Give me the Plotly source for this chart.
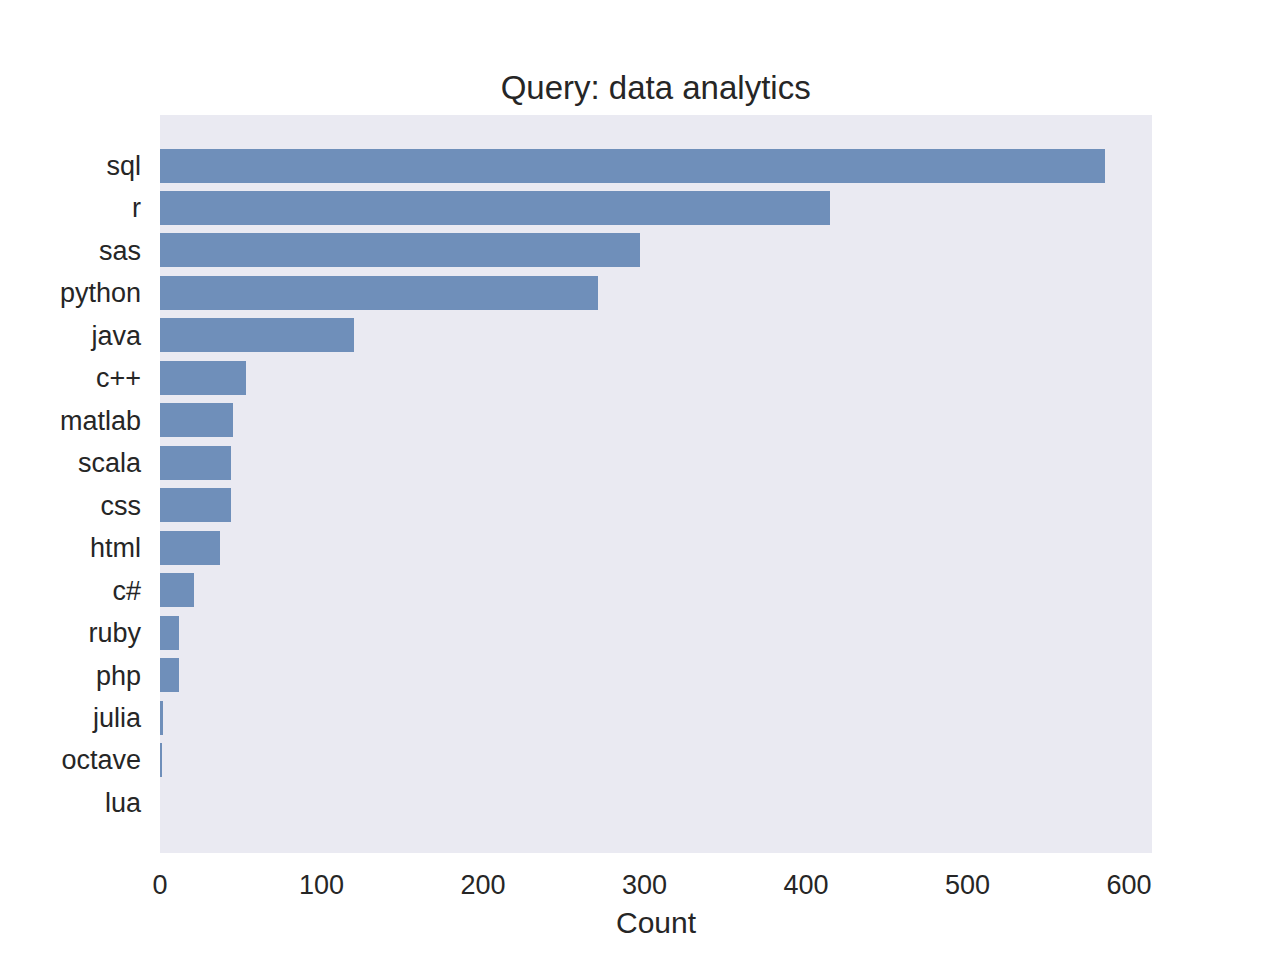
import plotly.graph_objects as go

languages = ['sql', 'r', 'sas', 'python', 'java', 'c++', 'matlab', 'scala',
             'css', 'html', 'c#', 'ruby', 'php', 'julia', 'octave', 'lua']
counts = [585, 415, 297, 271, 120, 53, 45, 44, 44, 37, 21, 12, 12, 2, 1, 0]

fig = go.Figure(go.Bar(
    x=counts,
    y=list(range(len(languages))),
    orientation='h',
    width=0.8,
    marker=dict(color='rgb(111,143,186)', line=dict(width=0)),
))

# page body adds 8px offset, so margins are shifted to compensate
fig.update_layout(
    width=1280, height=960,
    paper_bgcolor='white',
    plot_bgcolor='#EAEAF2',
    margin=dict(l=152, r=136, t=107, b=115),
    font=dict(family='Liberation Sans, Arial, sans-serif', color='#262626'),
    title=dict(text='Query: data analytics', x=0.506, xanchor='center',
               y=0.917, yanchor='middle', font=dict(size=33)),
    showlegend=False,
    bargap=0,
)

fig.update_xaxes(
    range=[0, max(counts) * 1.05],
    tickvals=[0, 100, 200, 300, 400, 500, 600],
    tickfont=dict(size=27),
    showgrid=False, zeroline=False, showline=False,
    ticks='', ticklabelstandoff=13,
    title=dict(text='Count', font=dict(size=30), standoff=12),
)

fig.update_yaxes(
    range=[len(languages) - 1 + 1.19, -1.19],
    tickvals=list(range(len(languages))),
    ticktext=languages,
    tickfont=dict(size=27),
    showgrid=False, zeroline=False, showline=False,
    ticks='', ticklabelstandoff=18,
)

fig.write_html("out.html")
